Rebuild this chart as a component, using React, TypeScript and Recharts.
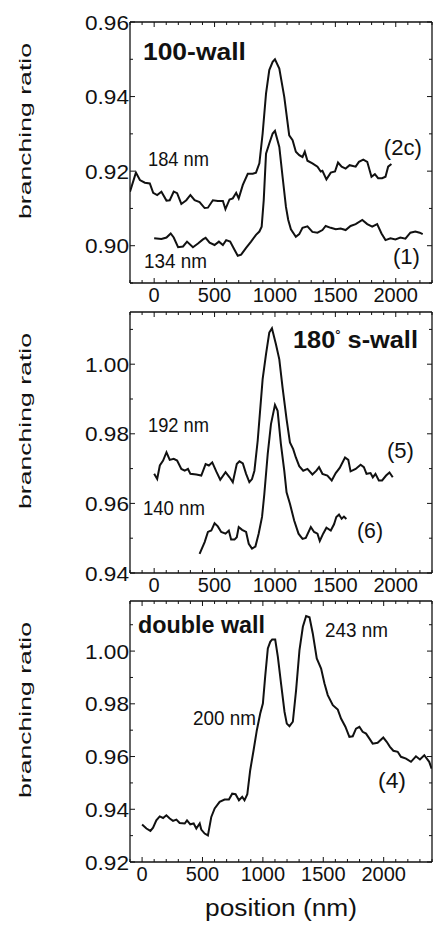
import React from "react";
import { LineChart, Line, XAxis, YAxis, ReferenceLine, ReferenceDot } from "recharts";

type Pt = { x: number; y: number };
type Note = { x: number; y: number; text: string; size: number; width: number; bold?: boolean; sup?: string; rest?: string };

// panel (a) 100-wall
const wall100Upper: Pt[] = [
  { x: -200, y: 0.9145 }, { x: -151, y: 0.9196 }, { x: -118, y: 0.9176 }, { x: -77, y: 0.9169 },
  { x: -36, y: 0.9167 }, { x: -8, y: 0.9142 }, { x: 25, y: 0.9136 }, { x: 60, y: 0.9145 },
  { x: 102, y: 0.9121 }, { x: 129, y: 0.9122 }, { x: 162, y: 0.9145 }, { x: 190, y: 0.9141 },
  { x: 225, y: 0.9112 }, { x: 266, y: 0.9122 }, { x: 300, y: 0.9136 }, { x: 335, y: 0.9122 },
  { x: 376, y: 0.9117 }, { x: 418, y: 0.9101 }, { x: 445, y: 0.9102 }, { x: 486, y: 0.9122 },
  { x: 527, y: 0.912 }, { x: 569, y: 0.912 }, { x: 590, y: 0.9098 }, { x: 624, y: 0.9124 },
  { x: 651, y: 0.9127 }, { x: 679, y: 0.9142 }, { x: 700, y: 0.9127 }, { x: 734, y: 0.9163 },
  { x: 775, y: 0.9193 }, { x: 816, y: 0.9193 }, { x: 843, y: 0.9196 }, { x: 871, y: 0.9221 },
  { x: 898, y: 0.9301 }, { x: 926, y: 0.9408 }, { x: 953, y: 0.9471 }, { x: 981, y: 0.9493 },
  { x: 1000, y: 0.95 }, { x: 1036, y: 0.9475 }, { x: 1077, y: 0.9399 }, { x: 1118, y: 0.9296 },
  { x: 1146, y: 0.9283 }, { x: 1173, y: 0.9252 }, { x: 1201, y: 0.9243 }, { x: 1228, y: 0.9238 },
  { x: 1247, y: 0.9252 }, { x: 1269, y: 0.9228 }, { x: 1310, y: 0.9221 }, { x: 1352, y: 0.9212 },
  { x: 1379, y: 0.9199 }, { x: 1393, y: 0.9201 }, { x: 1426, y: 0.9178 }, { x: 1462, y: 0.9196 },
  { x: 1497, y: 0.9199 }, { x: 1522, y: 0.9223 }, { x: 1552, y: 0.9212 }, { x: 1585, y: 0.9207 },
  { x: 1618, y: 0.9216 }, { x: 1668, y: 0.9212 }, { x: 1695, y: 0.9225 }, { x: 1731, y: 0.9231 },
  { x: 1764, y: 0.9225 }, { x: 1799, y: 0.9185 }, { x: 1827, y: 0.9192 }, { x: 1854, y: 0.9181 },
  { x: 1887, y: 0.9181 }, { x: 1915, y: 0.9185 }, { x: 1937, y: 0.9212 }, { x: 1964, y: 0.9219 },
];

const wall100Lower: Pt[] = [
  { x: 0, y: 0.902 }, { x: 60, y: 0.9018 }, { x: 102, y: 0.9022 }, { x: 137, y: 0.9033 },
  { x: 162, y: 0.9022 }, { x: 198, y: 0.8996 }, { x: 239, y: 0.8998 }, { x: 272, y: 0.9011 },
  { x: 321, y: 0.8996 }, { x: 363, y: 0.9006 }, { x: 404, y: 0.9017 }, { x: 426, y: 0.9021 },
  { x: 459, y: 0.9008 }, { x: 500, y: 0.9002 }, { x: 536, y: 0.9011 }, { x: 569, y: 0.9002 },
  { x: 596, y: 0.9015 }, { x: 629, y: 0.9011 }, { x: 665, y: 0.8989 }, { x: 692, y: 0.8973 },
  { x: 720, y: 0.8976 }, { x: 761, y: 0.8994 }, { x: 802, y: 0.9011 }, { x: 843, y: 0.9029 },
  { x: 871, y: 0.9038 }, { x: 890, y: 0.9051 }, { x: 907, y: 0.9122 }, { x: 926, y: 0.9247 },
  { x: 953, y: 0.9274 }, { x: 981, y: 0.9301 }, { x: 1000, y: 0.9308 }, { x: 1036, y: 0.9265 },
  { x: 1063, y: 0.9185 }, { x: 1091, y: 0.9104 }, { x: 1110, y: 0.9069 }, { x: 1132, y: 0.9044 },
  { x: 1173, y: 0.9024 }, { x: 1201, y: 0.9031 }, { x: 1228, y: 0.9048 }, { x: 1269, y: 0.9052 },
  { x: 1310, y: 0.9037 }, { x: 1352, y: 0.9035 }, { x: 1393, y: 0.9042 }, { x: 1420, y: 0.9053 },
  { x: 1462, y: 0.9048 }, { x: 1503, y: 0.9044 }, { x: 1544, y: 0.9046 }, { x: 1585, y: 0.9042 },
  { x: 1626, y: 0.9053 }, { x: 1668, y: 0.9058 }, { x: 1723, y: 0.9069 }, { x: 1764, y: 0.9058 },
  { x: 1805, y: 0.9051 }, { x: 1846, y: 0.9058 }, { x: 1882, y: 0.9033 }, { x: 1915, y: 0.9015 },
  { x: 1956, y: 0.902 }, { x: 1997, y: 0.9017 }, { x: 2038, y: 0.9022 }, { x: 2080, y: 0.9019 },
  { x: 2121, y: 0.9035 }, { x: 2162, y: 0.9038 }, { x: 2198, y: 0.9035 }, { x: 2223, y: 0.9031 },
];

// panel (b) 180 s-wall
const swallUpper: Pt[] = [
  { x: 0, y: 0.9685 }, { x: 25, y: 0.967 }, { x: 47, y: 0.9709 }, { x: 74, y: 0.9723 },
  { x: 102, y: 0.9747 }, { x: 129, y: 0.9725 }, { x: 162, y: 0.9728 }, { x: 190, y: 0.9723 },
  { x: 225, y: 0.9699 }, { x: 253, y: 0.9694 }, { x: 280, y: 0.9699 }, { x: 300, y: 0.9685 },
  { x: 349, y: 0.9683 }, { x: 390, y: 0.968 }, { x: 426, y: 0.9713 }, { x: 453, y: 0.9709 },
  { x: 481, y: 0.9718 }, { x: 514, y: 0.9692 }, { x: 547, y: 0.9668 }, { x: 591, y: 0.969 },
  { x: 624, y: 0.9675 }, { x: 651, y: 0.9661 }, { x: 684, y: 0.9713 }, { x: 706, y: 0.9721 },
  { x: 734, y: 0.9715 }, { x: 761, y: 0.9685 }, { x: 788, y: 0.9661 }, { x: 810, y: 0.967 },
  { x: 830, y: 0.9694 }, { x: 857, y: 0.978 }, { x: 898, y: 0.9957 }, { x: 926, y: 1.0029 },
  { x: 953, y: 1.0091 }, { x: 975, y: 1.0103 }, { x: 1008, y: 1.0057 }, { x: 1036, y: 1.0014 },
  { x: 1063, y: 0.9933 }, { x: 1096, y: 0.9842 }, { x: 1124, y: 0.9775 }, { x: 1151, y: 0.9756 },
  { x: 1173, y: 0.9732 }, { x: 1201, y: 0.9707 }, { x: 1234, y: 0.9694 }, { x: 1269, y: 0.9699 },
  { x: 1310, y: 0.9683 }, { x: 1343, y: 0.9694 }, { x: 1365, y: 0.9704 }, { x: 1393, y: 0.9685 },
  { x: 1434, y: 0.968 }, { x: 1470, y: 0.9666 }, { x: 1503, y: 0.9687 }, { x: 1536, y: 0.9702 },
  { x: 1580, y: 0.9732 }, { x: 1607, y: 0.9725 }, { x: 1626, y: 0.9692 }, { x: 1668, y: 0.9699 },
  { x: 1709, y: 0.9711 }, { x: 1736, y: 0.9704 }, { x: 1758, y: 0.9685 }, { x: 1791, y: 0.9687 },
  { x: 1810, y: 0.9675 }, { x: 1832, y: 0.9685 }, { x: 1860, y: 0.9666 }, { x: 1887, y: 0.9666 },
  { x: 1920, y: 0.968 }, { x: 1948, y: 0.9689 }, { x: 1975, y: 0.9675 },
];

const swallLower: Pt[] = [
  { x: 376, y: 0.9455 }, { x: 418, y: 0.9489 }, { x: 445, y: 0.9518 }, { x: 473, y: 0.9522 },
  { x: 500, y: 0.9543 }, { x: 527, y: 0.9534 }, { x: 555, y: 0.9518 }, { x: 591, y: 0.9513 },
  { x: 618, y: 0.9522 }, { x: 637, y: 0.9496 }, { x: 665, y: 0.9496 }, { x: 684, y: 0.9503 },
  { x: 700, y: 0.9532 }, { x: 728, y: 0.9524 }, { x: 761, y: 0.9518 }, { x: 783, y: 0.9484 },
  { x: 810, y: 0.947 }, { x: 838, y: 0.9476 }, { x: 865, y: 0.9513 }, { x: 893, y: 0.9561 },
  { x: 912, y: 0.9627 }, { x: 940, y: 0.9742 }, { x: 967, y: 0.9828 }, { x: 1000, y: 0.9883 },
  { x: 1022, y: 0.9866 }, { x: 1049, y: 0.9771 }, { x: 1077, y: 0.9694 }, { x: 1096, y: 0.9632 },
  { x: 1124, y: 0.9599 }, { x: 1159, y: 0.9551 }, { x: 1195, y: 0.9513 }, { x: 1228, y: 0.9498 },
  { x: 1255, y: 0.9501 }, { x: 1297, y: 0.9532 }, { x: 1324, y: 0.9518 }, { x: 1352, y: 0.9513 },
  { x: 1371, y: 0.9492 }, { x: 1399, y: 0.9513 }, { x: 1426, y: 0.953 }, { x: 1462, y: 0.9522 },
  { x: 1489, y: 0.954 }, { x: 1508, y: 0.9561 }, { x: 1530, y: 0.9568 }, { x: 1552, y: 0.9556 },
  { x: 1571, y: 0.9562 }, { x: 1591, y: 0.9555 },
];

// panel (c) double wall
const doubleWall: Pt[] = [
  { x: 0, y: 0.9342 }, { x: 36, y: 0.9327 }, { x: 69, y: 0.9318 }, { x: 91, y: 0.933 },
  { x: 118, y: 0.9358 }, { x: 146, y: 0.9373 }, { x: 174, y: 0.9367 }, { x: 201, y: 0.9377 },
  { x: 229, y: 0.9365 }, { x: 256, y: 0.9356 }, { x: 284, y: 0.9361 }, { x: 311, y: 0.9348 },
  { x: 353, y: 0.9346 }, { x: 372, y: 0.9358 }, { x: 399, y: 0.9343 }, { x: 427, y: 0.9346 },
  { x: 449, y: 0.9327 }, { x: 477, y: 0.9346 }, { x: 490, y: 0.9323 }, { x: 518, y: 0.9308 },
  { x: 545, y: 0.9301 }, { x: 573, y: 0.9371 }, { x: 601, y: 0.9403 }, { x: 642, y: 0.9428 },
  { x: 683, y: 0.9437 }, { x: 719, y: 0.9437 }, { x: 746, y: 0.9459 }, { x: 774, y: 0.9457 },
  { x: 802, y: 0.9434 }, { x: 829, y: 0.9447 }, { x: 848, y: 0.9434 }, { x: 871, y: 0.9457 },
  { x: 895, y: 0.9548 }, { x: 923, y: 0.9624 }, { x: 950, y: 0.97 }, { x: 978, y: 0.9763 },
  { x: 1000, y: 0.9801 }, { x: 1019, y: 0.9903 }, { x: 1041, y: 1.001 }, { x: 1061, y: 1.0035 },
  { x: 1077, y: 1.0044 }, { x: 1102, y: 1.0044 }, { x: 1124, y: 0.9978 }, { x: 1152, y: 0.9871 },
  { x: 1179, y: 0.977 }, { x: 1198, y: 0.9725 }, { x: 1220, y: 0.9715 }, { x: 1248, y: 0.9732 },
  { x: 1275, y: 0.9852 }, { x: 1303, y: 1.0004 }, { x: 1331, y: 1.0092 }, { x: 1358, y: 1.0133 },
  { x: 1386, y: 1.0128 }, { x: 1413, y: 1.0067 }, { x: 1446, y: 0.9972 }, { x: 1482, y: 0.9934 },
  { x: 1510, y: 0.9877 }, { x: 1537, y: 0.9833 }, { x: 1579, y: 0.9795 }, { x: 1620, y: 0.9778 },
  { x: 1647, y: 0.9744 }, { x: 1683, y: 0.9713 }, { x: 1716, y: 0.9675 }, { x: 1744, y: 0.9677 },
  { x: 1771, y: 0.9706 }, { x: 1799, y: 0.9713 }, { x: 1826, y: 0.9694 }, { x: 1854, y: 0.9687 },
  { x: 1882, y: 0.9668 }, { x: 1909, y: 0.9649 }, { x: 1950, y: 0.9652 }, { x: 1997, y: 0.9672 },
  { x: 2025, y: 0.9656 }, { x: 2052, y: 0.9637 }, { x: 2080, y: 0.9622 }, { x: 2116, y: 0.9618 },
  { x: 2143, y: 0.9599 }, { x: 2185, y: 0.9592 }, { x: 2226, y: 0.958 }, { x: 2267, y: 0.9601 },
  { x: 2300, y: 0.9589 }, { x: 2336, y: 0.9605 }, { x: 2377, y: 0.958 }, { x: 2397, y: 0.9554 },
];

// ticks
const xTicksAB = [-200, -100, 0, 100, 200, 300, 400, 500, 600, 700, 800, 900, 1000, 1100, 1200, 1300, 1400, 1500, 1600, 1700, 1800, 1900, 2000, 2100, 2200, 2300];
const xTicksC = [-100, 0, 100, 200, 300, 400, 500, 600, 700, 800, 900, 1000, 1100, 1200, 1300, 1400, 1500, 1600, 1700, 1800, 1900, 2000, 2100, 2200, 2300, 2400];
const xLabels = [0, 500, 1000, 1500, 2000];
const yTicksA = [0.89, 0.9, 0.91, 0.92, 0.93, 0.94, 0.95, 0.96];
const yLabelsA = [0.9, 0.92, 0.94, 0.96];
const yTicksB = [0.94, 0.95, 0.96, 0.97, 0.98, 0.99, 1.0, 1.01];
const yLabelsB = [0.94, 0.96, 0.98, 1.0];
const yTicksC = [0.92, 0.93, 0.94, 0.95, 0.96, 0.97, 0.98, 0.99, 1.0, 1.01];
const yLabelsC = [0.92, 0.94, 0.96, 0.98, 1.0];

const notesA: Note[] = [
  { x: -93, y: 0.9498, text: "100-wall", size: 23, width: 103, bold: true },
  { x: -51, y: 0.9214, text: "184 nm", size: 21, width: 61 },
  { x: 1901, y: 0.9244, text: "(2c)", size: 22, width: 38 },
  { x: -84, y: 0.894, text: "134 nm", size: 21, width: 63 },
  { x: 1977, y: 0.8952, text: "(1)", size: 22, width: 27 },
];
const notesB: Note[] = [
  { x: 1149, y: 1.0047, text: "180", sup: "°", rest: " s-wall", size: 23, width: 125, bold: true },
  { x: -51, y: 0.9805, text: "192 nm", size: 21, width: 61 },
  { x: 1927, y: 0.973, text: "(5)", size: 22, width: 27 },
  { x: -93, y: 0.9567, text: "140 nm", size: 21, width: 62 },
  { x: 1679, y: 0.95, text: "(6)", size: 22, width: 26 },
];
const notesC: Note[] = [
  { x: -34, y: 1.0069, text: "double wall", size: 23, width: 127, bold: true },
  { x: 1514, y: 1.0054, text: "243 nm", size: 21, width: 63 },
  { x: 421, y: 0.972, text: "200 nm", size: 21, width: 63 },
  { x: 1953, y: 0.9479, text: "(4)", size: 22, width: 28 },
];

const INK = "#111";
const FONT = '"Liberation Sans", Arial, Helvetica, sans-serif';
const PLOT_H = 261;
const PLOT_W = 302;
const TOP = 22;
const PANEL_TOPS = [0, 290, 579];

const XTick = (props: any) => {
  const { x, y, payload, labels } = props;
  const v = payload.value;
  const major = labels.includes(v);
  const len = major ? 5 : 3;
  return (
    <g>
      <line x1={x} y1={y} x2={x} y2={y - len} stroke={INK} strokeWidth={1} />
      <line x1={x} y1={y - PLOT_H} x2={x} y2={y - PLOT_H + len} stroke={INK} strokeWidth={1} />
      {major && (
        <text x={x} y={y + 19} textAnchor="middle" fontSize={20} fontFamily={FONT} fill={INK}>
          {v}
        </text>
      )}
    </g>
  );
};

const YTick = (props: any) => {
  const { x, y, payload, labels } = props;
  const v = payload.value;
  const major = labels.some((l: number) => Math.abs(l - v) < 1e-6);
  const len = major ? 5 : 3;
  return (
    <g>
      <line x1={x} y1={y} x2={x + len} y2={y} stroke={INK} strokeWidth={1} />
      <line x1={x + PLOT_W} y1={y} x2={x + PLOT_W - len} y2={y} stroke={INK} strokeWidth={1} />
      {major && (
        <text x={x - 1} y={y + 7.5} textAnchor="end" fontSize={21} fontFamily={FONT} fill={INK}
          textLength={44} lengthAdjust="spacingAndGlyphs">
          {v.toFixed(2)}
        </text>
      )}
    </g>
  );
};

const XTitle = (props: any) => {
  const vb = props.viewBox || { x: 130, y: 283, width: PLOT_W };
  const cx = vb.x + vb.width / 2;
  return (
    <text x={cx} y={vb.y + 54} textAnchor="middle" fontSize={23} fontFamily={FONT} fill={INK}
      textLength={152} lengthAdjust="spacingAndGlyphs">
      position (nm)
    </text>
  );
};

const NoteText = ({ cx, cy, note }: any) => {
  if (note.sup) {
    return (
      <text x={cx} y={cy} fontSize={note.size} fontWeight="bold" fontFamily={FONT} fill={INK}
        textLength={note.width} lengthAdjust="spacingAndGlyphs">
        {note.text}
        <tspan dy={-9} fontSize={12}>{note.sup}</tspan>
        <tspan dy={9}>{note.rest}</tspan>
      </text>
    );
  }
  return (
    <text x={cx} y={cy} fontSize={note.size} fontWeight={note.bold ? "bold" : "normal"} fontFamily={FONT}
      fill={INK} textLength={note.width} lengthAdjust="spacingAndGlyphs">
      {note.text}
    </text>
  );
};

type PanelProps = {
  height: number;
  xDomain: [number, number];
  xTicks: number[];
  yDomain: [number, number];
  yTicks: number[];
  yLabels: number[];
  series: Pt[][];
  notes: Note[];
  showXTitle?: boolean;
};

function Panel({ height, xDomain, xTicks, yDomain, yTicks, yLabels, series, notes, showXTitle }: PanelProps) {
  return (
    <LineChart width={433} height={height} margin={{ top: TOP, right: 1, left: 0, bottom: 0 }}>
      <XAxis
        type="number"
        dataKey="x"
        domain={xDomain}
        ticks={xTicks}
        interval={0}
        allowDataOverflow
        height={height - TOP - PLOT_H}
        tickSize={0}
        tickMargin={0}
        tickLine={false}
        axisLine={{ stroke: INK, strokeWidth: 1.3 }}
        tick={<XTick labels={xLabels} />}
        label={showXTitle ? <XTitle /> : undefined}
      />
      <YAxis
        type="number"
        dataKey="y"
        domain={yDomain}
        ticks={yTicks}
        interval={0}
        allowDataOverflow
        width={130}
        tickSize={0}
        tickMargin={0}
        tickLine={false}
        axisLine={{ stroke: INK, strokeWidth: 1.3 }}
        tick={<YTick labels={yLabels} />}
      />
      <ReferenceLine y={yDomain[1]} stroke={INK} strokeWidth={1.3} />
      <ReferenceLine x={xDomain[1]} stroke={INK} strokeWidth={1.3} />
      {series.map((s, i) => (
        <Line key={i} data={s} dataKey="y" type="linear" stroke={INK} strokeWidth={2} dot={false}
          isAnimationActive={false} />
      ))}
      {notes.map((n, i) => (
        <ReferenceDot key={`n${i}`} x={n.x} y={n.y} r={0} shape={(p: any) => <NoteText cx={p.cx} cy={p.cy} note={n} />} />
      ))}
    </LineChart>
  );
}

export default function App() {
  return (
    <div style={{ position: "absolute", left: 0, top: 0, width: 433, height: 926, background: "#fff", fontFamily: FONT }}>
      <div style={{ position: "absolute", left: 0, top: PANEL_TOPS[0] }}>
        <Panel height={310} xDomain={[-200, 2300]} xTicks={xTicksAB} yDomain={[0.89, 0.96]} yTicks={yTicksA}
          yLabels={yLabelsA} series={[wall100Upper, wall100Lower]} notes={notesA} />
      </div>
      <div style={{ position: "absolute", left: 0, top: PANEL_TOPS[1] }}>
        <Panel height={310} xDomain={[-200, 2300]} xTicks={xTicksAB} yDomain={[0.94, 1.015]} yTicks={yTicksB}
          yLabels={yLabelsB} series={[swallUpper, swallLower]} notes={notesB} />
      </div>
      <div style={{ position: "absolute", left: 0, top: PANEL_TOPS[2] }}>
        <Panel height={347} xDomain={[-100, 2400]} xTicks={xTicksC} yDomain={[0.92, 1.019]} yTicks={yTicksC}
          yLabels={yLabelsC} series={[doubleWall]} notes={notesC} showXTitle />
      </div>
      {/* rotated y titles, one per panel */}
      <svg width={60} height={926} style={{ position: "absolute", left: 0, top: 0, pointerEvents: "none" }}>
        {PANEL_TOPS.map((t, i) => {
          const cx = 31;
          const cy = t + TOP + 109;
          return (
            <text key={i} x={cx} y={cy} transform={`rotate(-90 ${cx} ${cy})`} textAnchor="middle" fontSize={17}
              fontFamily={FONT} fill={INK} textLength={176} lengthAdjust="spacingAndGlyphs">
              branching ratio
            </text>
          );
        })}
      </svg>
    </div>
  );
}
